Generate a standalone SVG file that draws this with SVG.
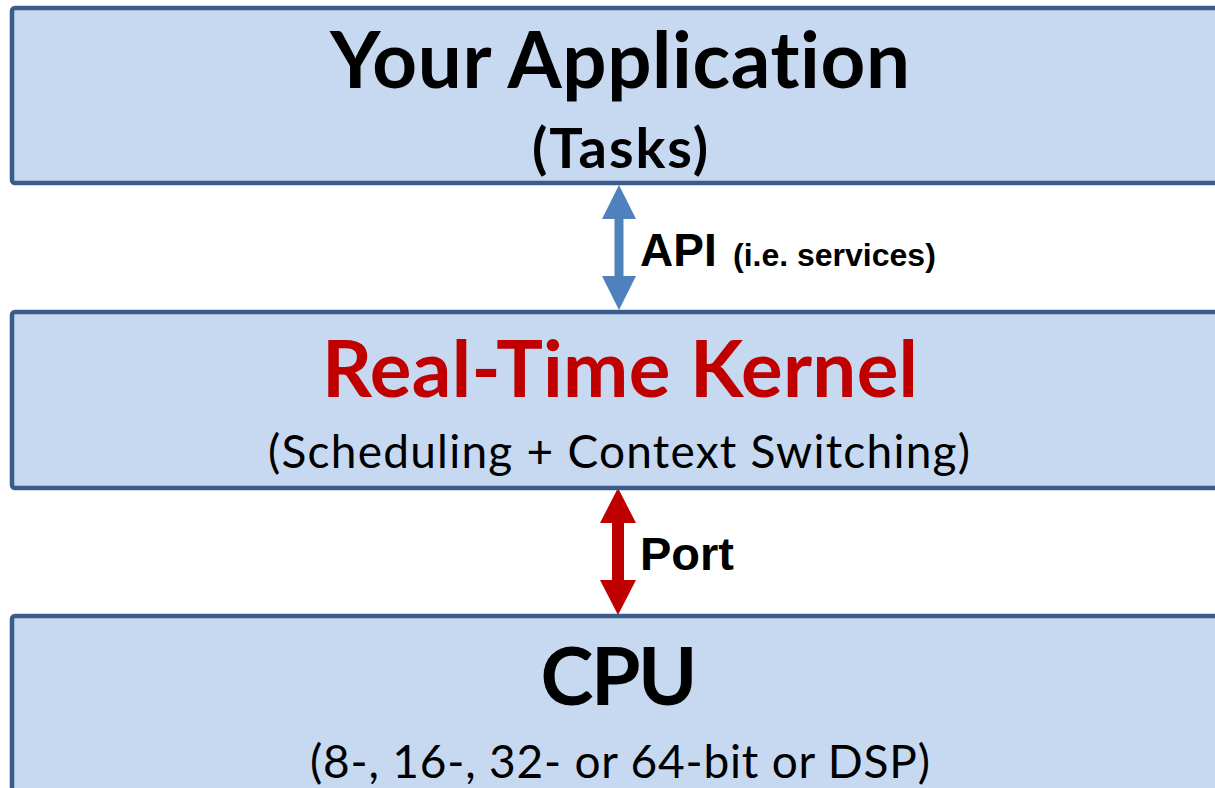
<svg xmlns="http://www.w3.org/2000/svg" width="1215" height="788" viewBox="0 0 1215 788">
<style>
.box{fill:#C6D9F1;stroke:#385D8A;stroke-width:4.5}
.t{font-family:Lato,"Open Sans","Liberation Sans",sans-serif;text-anchor:middle;fill:#000;font-variant-ligatures:none}
.b{font-weight:bold}
.a{font-family:"Liberation Sans",Arial,sans-serif;font-weight:bold;fill:#000}
</style>
<rect width="1215" height="788" fill="#fff"/>
<g id="connectors">
<polygon fill="#4F81BD" points="619,185 636,219 623.5,219 623.5,276 636,276 619,310 602,276 614.5,276 614.5,219 602,219"/>
<polygon fill="#C00000" points="618,488 636,523 624,523 624,580 636,580 618,615 600,580 612,580 612,523 600,523"/>
</g>
<g id="app">
<rect class="box" x="12" y="8" width="1240" height="175" rx="3"/>
<text class="t b" x="620" y="88" font-size="78" textLength="580">Your Application</text>
<text class="t b" x="620" y="168" font-size="56" textLength="176">(Tasks)</text>
</g>
<g id="api-label">
<text class="a" x="640" y="266" font-size="46">API</text>
<text class="a" x="733" y="266" font-size="32">(i.e. services)</text>
</g>
<g id="kernel">
<rect class="box" x="12" y="312" width="1240" height="176" rx="3"/>
<text class="t b" x="620" y="397" font-size="78" style="fill:#C00000" textLength="596">Real-Time Kernel</text>
<text class="t" x="619" y="468" font-size="46" textLength="702">(Scheduling + Context Switching)</text>
</g>
<g id="port-label">
<text class="a" x="640" y="570" font-size="47">Port</text>
</g>
<g id="cpu">
<rect class="box" x="12" y="616" width="1240" height="200" rx="3"/>
<text class="t b" x="619" y="705" font-size="80" textLength="157">CPU</text>
<text class="t" x="620" y="778" font-size="46" textLength="620">(8-, 16-, 32- or 64-bit or DSP)</text>
</g>
</svg>
